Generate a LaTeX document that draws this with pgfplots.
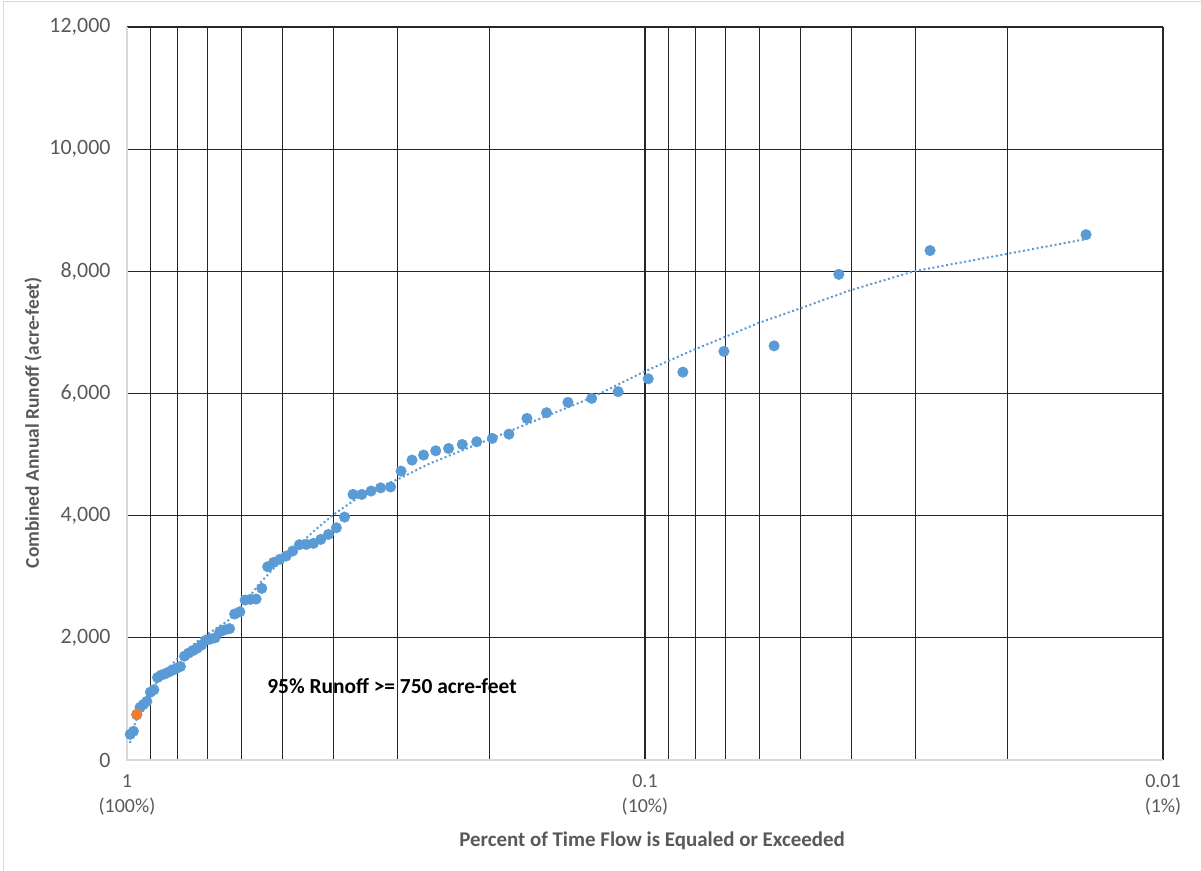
\documentclass[border=0pt]{standalone}
\usepackage{fontspec}
\setmainfont{Carlito}
\usepackage{pgfplots}
\pgfplotsset{compat=1.18}
\definecolor{ptblue}{HTML}{5B9BD5}
\definecolor{ptorange}{HTML}{ED7D31}
\definecolor{txtgrey}{HTML}{595959}
\definecolor{edgegrey}{HTML}{D9D9D9}

% Annual runoff, ranked; exceedance probability m/(n+1), n = 70
\pgfplotstableread{
p        q
0.01408  8600
0.02817  8340
0.04225  7950
0.05634  6780
0.07042  6690
0.08451  6350
0.09859  6240
0.11268  6030
0.12676  5920
0.14085  5855
0.15493  5685
0.16901  5592
0.18310  5335
0.19718  5265
0.21127  5210
0.22535  5166
0.23944  5100
0.25352  5062
0.26761  4992
0.28169  4910
0.29577  4730
0.30986  4470
0.32394  4455
0.33803  4403
0.35211  4348
0.36620  4348
0.38028  3977
0.39437  3802
0.40845  3693
0.42254  3612
0.43662  3546
0.45070  3530
0.46479  3525
0.47887  3421
0.49296  3339
0.50704  3284
0.52113  3235
0.53521  3164
0.54930  2810
0.56338  2635
0.57746  2630
0.59155  2618
0.60563  2427
0.61972  2390
0.63380  2150
0.64789  2130
0.66197  2100
0.67606  2000
0.69014  1980
0.70423  1960
0.71831  1880
0.73239  1830
0.74648  1790
0.76056  1750
0.77465  1700
0.78873  1530
0.80282  1500
0.81690  1470
0.83099  1440
0.84507  1410
0.85915  1390
0.87324  1350
0.88732  1150
0.90141  1110
0.91549  960
0.92958  910
0.94366  860
0.95775  740
0.97183  470
0.98592  420
}\runoff

% Fitted trend curve
\pgfplotstableread{
p       q
0.9868  280
0.9651  600
0.9396  850
0.9110  1050
0.8830  1230
0.8446  1450
0.7902  1700
0.7229  1980
0.6411  2270
0.6215  2370
0.5891  2600
0.5586  2860
0.5178  3165
0.4738  3465
0.4335  3765
0.4003  4010
0.3678  4228
0.3518  4337
0.3292  4440
0.2932  4637
0.2601  4855
0.1992  5254
0.1277  5920
0.1005  6355
0.0808  6710
0.0707  6912
0.0605  7152
0.0502  7392
0.0406  7676
0.0303  8000
0.0142  8522
}\trend

\begin{document}
\begin{tikzpicture}
\begin{axis}[
  scale only axis,
  width=1036bp, height=733bp,
  xmode=log, x dir=reverse,
  xmin=0.01, xmax=1,
  ymin=0, ymax=12000,
  ytick={0,2000,...,12000},
  scaled y ticks=false,
  xtick={0.01,0.1,1},
  xticklabels={{0.01\\(1\%)},{0.1\\(10\%)},{1\\(100\%)}},
  minor xtick={0.02,0.03,0.04,0.05,0.06,0.07,0.08,0.09,0.2,0.3,0.4,0.5,0.6,0.7,0.8,0.9},
  grid=both,
  major grid style={black!85, line width=1.1bp},
  minor grid style={black!85, line width=1.1bp},
  major tick length=0pt, minor tick length=0pt,
  axis line style={draw=none},
  /pgf/number format/assume math mode=true,
  /pgf/number format/1000 sep={,},
  tick label style={text=txtgrey},
  xticklabel style={font=\fontsize{20}{25}\selectfont, align=center, anchor=north, yshift=-11bp},
  yticklabel style={font=\fontsize{22}{25}\selectfont, anchor=east, xshift=-13bp},
  xlabel={Percent of Time Flow is Equaled or Exceeded},
  ylabel={Combined Annual Runoff (acre-feet)},
  every axis x label/.style={at={(axis description cs:0.5068,-0.1105)}, anchor=center,
    font=\fontsize{21}{24}\selectfont\bfseries, text=txtgrey},
  every axis y label/.style={at={(axis description cs:-0.0907,0.460)}, anchor=center, rotate=90,
    font=\fontsize{19.5}{23}\selectfont\bfseries, text=txtgrey},
  clip=false,
]
\addplot[only marks, mark=*, mark size=5.3bp, color=ptblue] table[x=p, y=q] {\runoff};
\addplot[ptorange, mark=*, mark size=5.3bp, only marks] coordinates {(0.957, 750)};
\addplot[ptblue, line width=2bp, dash pattern=on 2bp off 2.6bp, no marks] table[x=p, y=q] {\trend};
\node[font=\fontsize{21.5}{24}\selectfont\bfseries, text=black] at (rel axis cs:0.2558,0.101) {95\% Runoff >= 750 acre-feet};
\draw[edgegrey, line width=1.5bp] (rel axis cs:0,1) -- (rel axis cs:0,0) -- (rel axis cs:1,0);
\coordinate (O) at (rel axis cs:0,0);
\end{axis}
\draw[edgegrey, line width=1bp] ([shift={(-123bp,-111bp)}]O) -- ([shift={(-123bp,758bp)}]O) -- ([shift={(1074bp,758bp)}]O);
\pgfresetboundingbox
\path[use as bounding box] ([shift={(-127bp,-111bp)}]O) rectangle ([shift={(1074bp,760bp)}]O);
\end{tikzpicture}
\end{document}
